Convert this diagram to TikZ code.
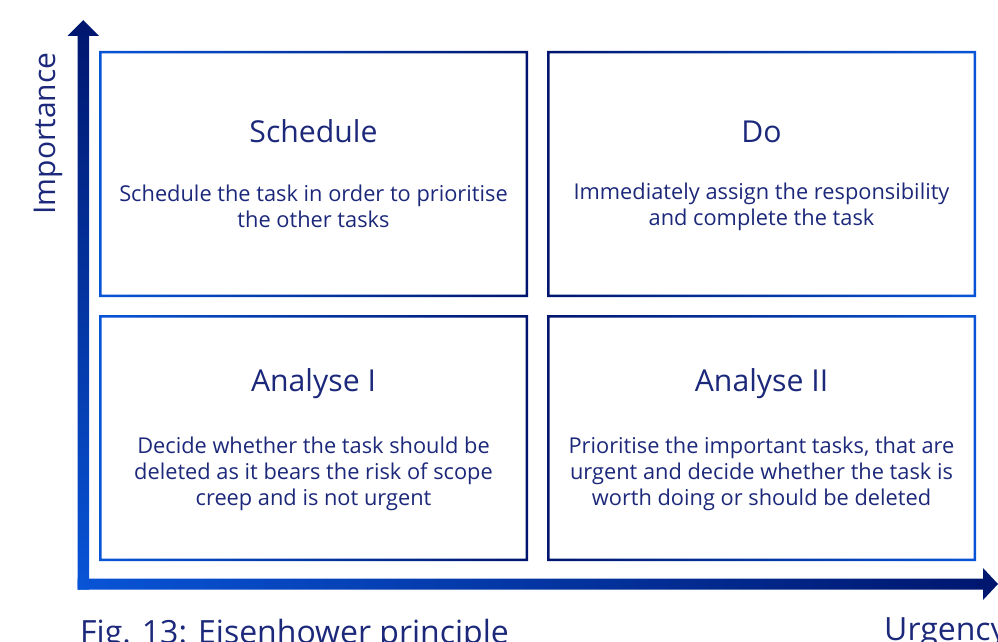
\documentclass[tikz,border=0pt]{standalone}
\usepackage{fontspec}
\setmainfont{Open Sans}
\usepackage{xcolor}
\usepackage{tikz}
\usetikzlibrary{calc}
\definecolor{qnavy}{RGB}{0,22,110}
\definecolor{qblue}{RGB}{8,84,214}
\definecolor{qtext}{RGB}{28,40,122}

\begin{document}
\begin{tikzpicture}[x=1pt,y=-1pt]%%eisenhower

                \tikzstyle{title}  = [text=qtext, font=\fontsize{30.2}{36}\selectfont, inner sep=0pt]
                \tikzstyle{body}   = [text=qtext, font=\fontsize{21.8}{26.2}\selectfont, align=center, inner sep=0pt]
                \tikzstyle{label}  = [text=qtext, font=\fontsize{30}{36}\selectfont, inner sep=0pt]
                \useasboundingbox (0,0) rectangle (998,642);

                \coordinate (o) at (83.25,584);
                \coordinate (ytip) at (83.25,20);
                \coordinate (xtip) at (998,584);

                % axes as shaded arrows
                \shade[top color=qnavy, bottom color=qblue]
                        ($(o)+(-5.75,5.5)$) -- ($(ytip)+(-5.75,16)$) -- ($(ytip)+(-15.75,16)$) -- (ytip)
                        -- ($(ytip)+(15.75,16)$) -- ($(ytip)+(5.75,16)$) -- ($(o)+(5.75,5.5)$) -- cycle;
                \shade[left color=qblue, right color=qnavy]
                        ($(o)+(-5.75,-5.5)$) -- ($(xtip)+(-15,-5.5)$) -- ($(xtip)+(-15,-16)$) -- (xtip)
                        -- ($(xtip)+(-15,16)$) -- ($(xtip)+(-15,5.5)$) -- ($(o)+(-5.75,5.5)$) -- cycle;

                % quadrant frames
                \foreach \n/\xa/\ya/\ca/\cb in {sch/99/51/qblue/qnavy, do/547/51/qnavy/qblue,
                                                anI/99/315/qblue/qnavy, anII/547/315/qnavy/qblue}{
                        \shade[left color=\ca, right color=\cb, even odd rule]
                                (\xa,\ya) rectangle ++(429,246) (\xa+2.5,\ya+2.5) rectangle ++(424,241);
                        \coordinate (\n) at (\xa+214.5,\ya);
                }

                \node [title](schT) at ($(sch)+(0,80.5)$) {Schedule};
                \node [body](schB) at ($(sch)+(0,155.5)$) {Schedule the task in order to prioritise\\the other tasks};
                \node [title](doT) at ($(do)+(0,80.5)$) {Do};
                \node [body](doB) at ($(do)+(0,155.5)$) {Immediately assign the responsibility\\and complete the task};
                \node [title](anIT) at ($(anI)+(0,69)$) {Analyse I};
                \node [body](anIB) at ($(anI)+(0,159)$) {Decide whether the task should be\\deleted as it bears the risk of scope\\creep and is not urgent};
                \node [title](anIIT) at ($(anII)+(0,69)$) {Analyse II};
                \node [body](anIIB) at ($(anII)+(0,159)$) {Prioritise the important tasks, that are\\urgent and decide whether the task is\\worth doing or should be deleted};

                \node [label, rotate=90](imp) at (48,133.5) {Importance};
                \node [label, anchor=base west, font=\fontsize{32}{38}\selectfont](urg) at (884,640) {Urgency};
                \node [label, anchor=base west, font=\fontsize{32}{38}\selectfont](fig) at (80,643) {Fig. 13: Eisenhower principle};
\end{tikzpicture}
\end{document}
